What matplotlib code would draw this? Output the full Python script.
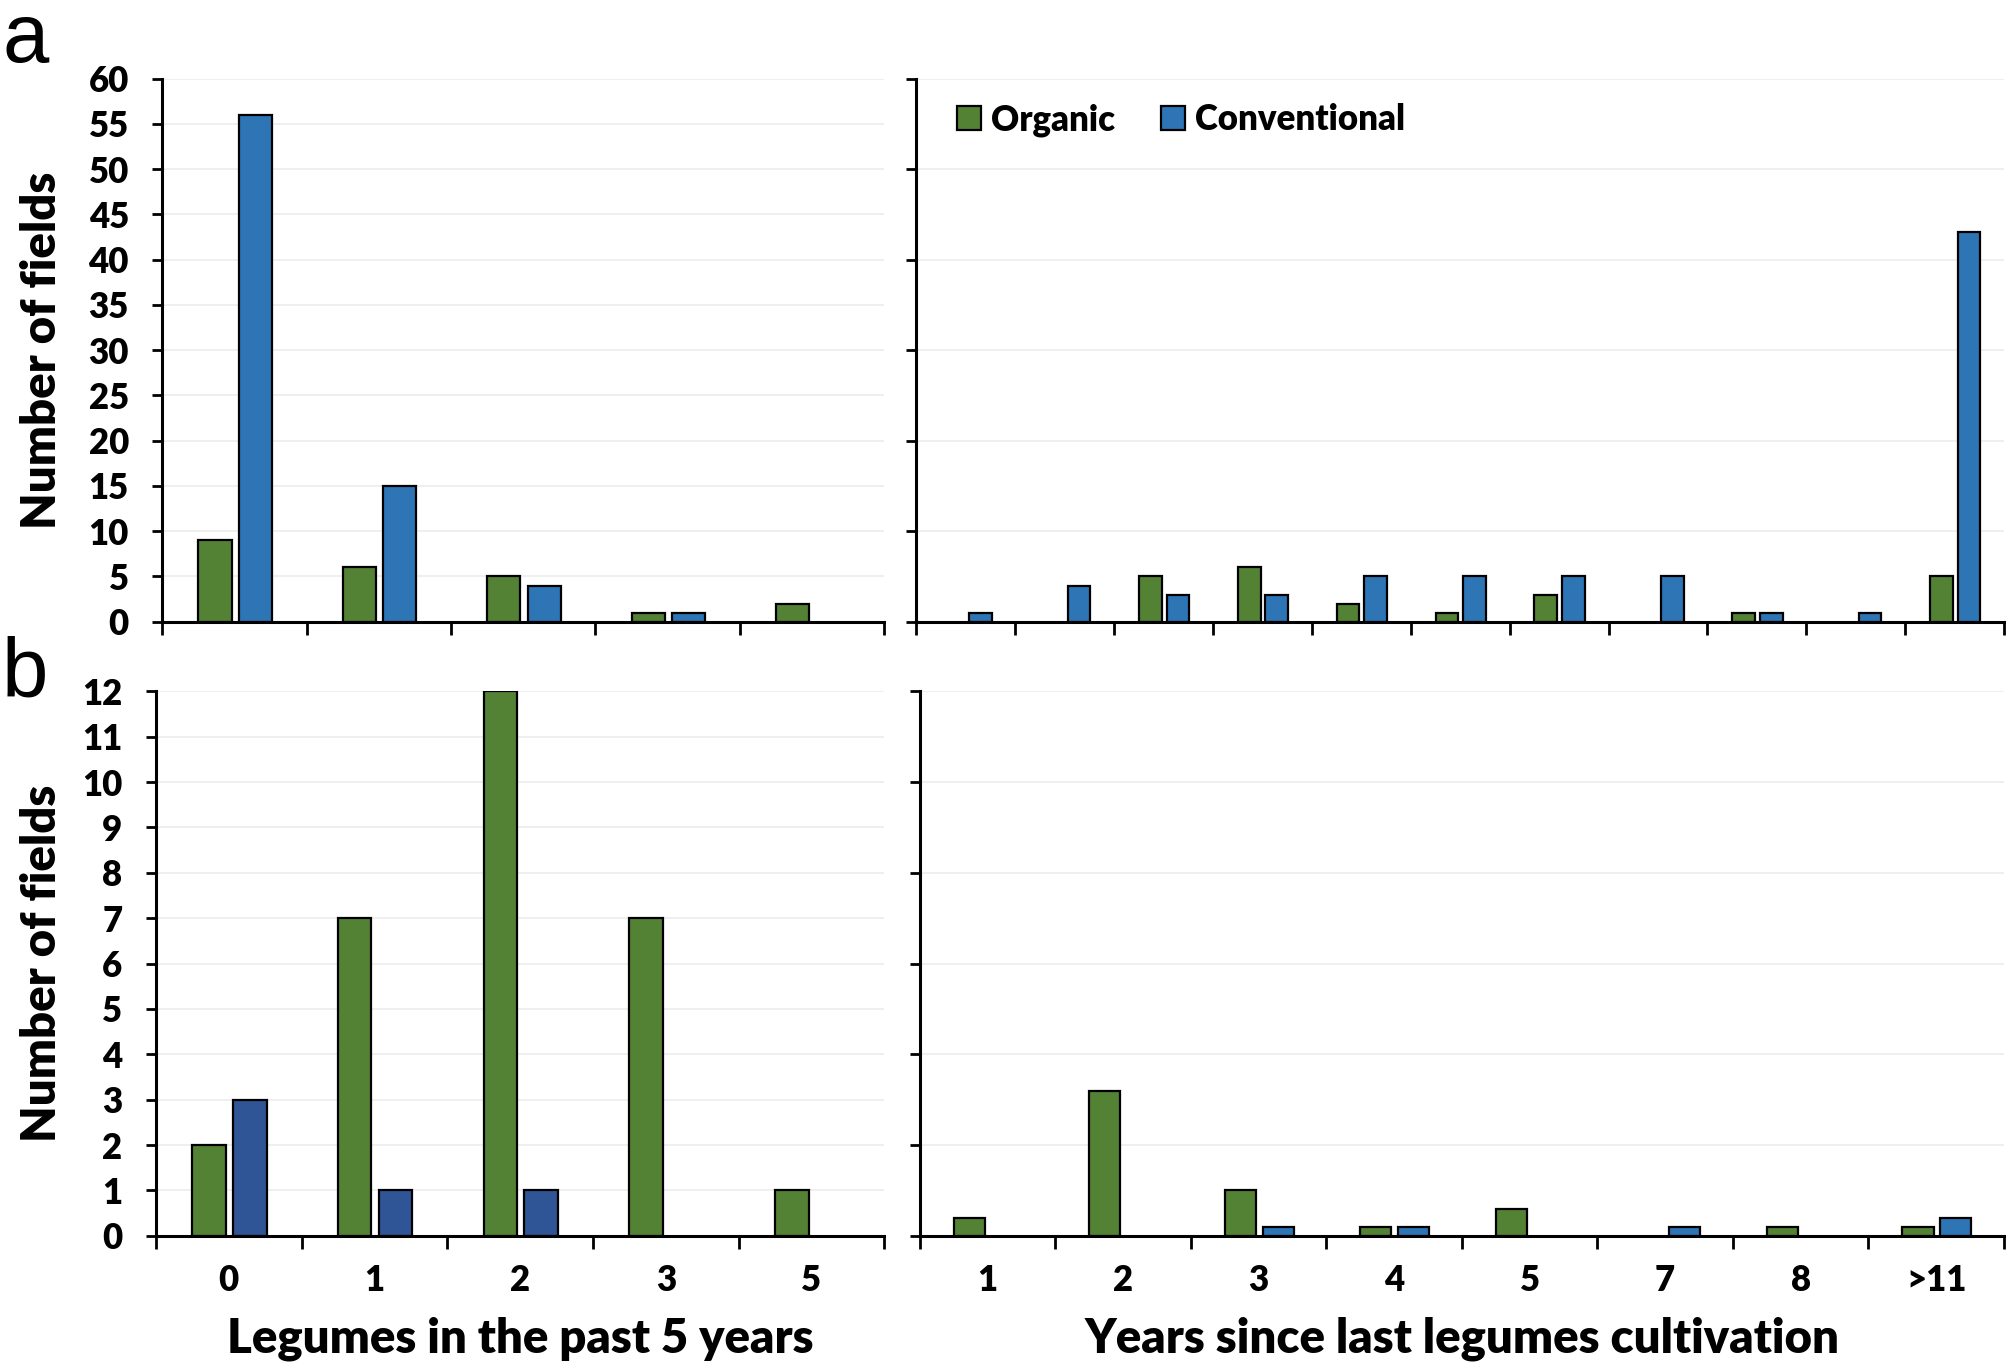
import numpy as np
import matplotlib
matplotlib.use("Agg")
import matplotlib.pyplot as plt

plt.rcParams['font.family'] = ['Lato', 'DejaVu Sans']
plt.rcParams['font.weight'] = 'heavy'

# data
cats_a_left = ['0', '1', '2', '3', '5']
org_a_left = [9, 6, 5, 1, 2]
conv_a_left = [56, 15, 4, 1, 0]

cats_a_right = ['1', '2', '3', '4', '5', '6', '7', '8', '9', '10', '>11']
org_a_right = [0, 0, 5, 6, 2, 1, 3, 0, 1, 0, 5]
conv_a_right = [1, 4, 3, 3, 5, 5, 5, 5, 1, 1, 43]

cats_b_left = ['0', '1', '2', '3', '5']
org_b_left = [2, 7, 12, 7, 1]
conv_b_left = [3, 1, 1, 0, 0]

cats_b_right = ['1', '2', '3', '4', '5', '7', '8', '>11']
org_b_right = [0.4, 3.2, 1.0, 0.2, 0.6, 0, 0.2, 0.2]
conv_b_right = [0, 0, 0.2, 0.2, 0, 0.2, 0, 0.4]

GREEN = '#548235'
BLUE = '#2E75B6'
DARKBLUE = '#2F5597'

fig = plt.figure(figsize=(20.08, 13.71), dpi=100)

ax_tl = fig.add_axes([0.0808, 0.5465, 0.3596, 0.3962])
ax_tr = fig.add_axes([0.4564, 0.5465, 0.5416, 0.3962])
ax_bl = fig.add_axes([0.0776, 0.0986, 0.3628, 0.3972])
ax_br = fig.add_axes([0.4580, 0.0986, 0.5400, 0.3972])


def draw(ax, cats, org, conv, conv_color, ymax, ystep, ylabels, xlabels):
    x = np.arange(len(cats))
    org = np.asarray(org, dtype=float)
    conv = np.asarray(conv, dtype=float)
    w = 0.23
    # zero counts drawn as nothing (no flat outline on the axis)
    m = org > 0
    ax.bar(x[m] - 0.135, org[m], w, color=GREEN, edgecolor='black', linewidth=1.6,
           zorder=3, label='Organic')
    m = conv > 0
    ax.bar(x[m] + 0.145, conv[m], w, color=conv_color, edgecolor='black', linewidth=1.6,
           zorder=3, label='Conventional')
    ax.set_xlim(-0.5, len(cats) - 0.5)
    ax.set_ylim(0, ymax)
    yt = np.arange(0, ymax + 0.001, ystep)
    ax.set_yticks(yt)
    ax.yaxis.grid(True, color='#ececec', linewidth=1.2, zorder=0)
    if ylabels:
        ax.set_yticklabels([str(int(v)) for v in yt])
    else:
        ax.set_yticklabels([])
    # category boundaries get the tick marks, labels sit in between
    ax.set_xticks(np.arange(len(cats) + 1) - 0.5)
    ax.set_xticklabels([])
    ax.set_xticks(x, minor=True)
    if xlabels:
        ax.set_xticklabels(cats, minor=True)
    else:
        ax.set_xticklabels([], minor=True)
    ax.tick_params(axis='x', which='major', direction='out', length=9, width=2)
    ax.tick_params(axis='x', which='minor', length=0, pad=20, labelsize=25)
    ax.tick_params(axis='y', direction='out', length=7, width=2, pad=17, labelsize=25)
    for s in ['top', 'right']:
        ax.spines[s].set_visible(False)
    for s in ['left', 'bottom']:
        ax.spines[s].set_linewidth(2.2)
        ax.spines[s].set_zorder(4)


draw(ax_tl, cats_a_left, org_a_left, conv_a_left, BLUE, 60, 5, True, False)
draw(ax_tr, cats_a_right, org_a_right, conv_a_right, BLUE, 60, 10, False, False)
draw(ax_bl, cats_b_left, org_b_left, conv_b_left, DARKBLUE, 12, 1, True, True)
draw(ax_br, cats_b_right, org_b_right, conv_b_right, BLUE, 12, 2, False, True)

ax_tr.legend(loc='center left', bbox_to_anchor=(0.037, 0.924), frameon=False,
             ncol=2, fontsize=25, handlelength=0.7, handleheight=0.7,
             handletextpad=0.3, columnspacing=1.3, borderpad=0, borderaxespad=0)

fig.text(0.021, 0.7446, 'Number of fields', rotation=90, ha='center', va='center',
         fontsize=34)
fig.text(0.021, 0.2975, 'Number of fields', rotation=90, ha='center', va='center',
         fontsize=34)
fig.text(0.259, 0.0235, 'Legumes in the past 5 years', ha='center', va='center',
         fontsize=34)
fig.text(0.728, 0.0235, 'Years since last legumes cultivation', ha='center', va='center',
         fontsize=34)

fig.text(0.001, 0.955, 'a', ha='left', va='baseline', fontsize=60,
         family='Liberation Sans', fontweight='normal')
fig.text(0.001, 0.492, 'b', ha='left', va='baseline', fontsize=60,
         family='Liberation Sans', fontweight='normal')

fig.savefig('out.png', dpi=100)
